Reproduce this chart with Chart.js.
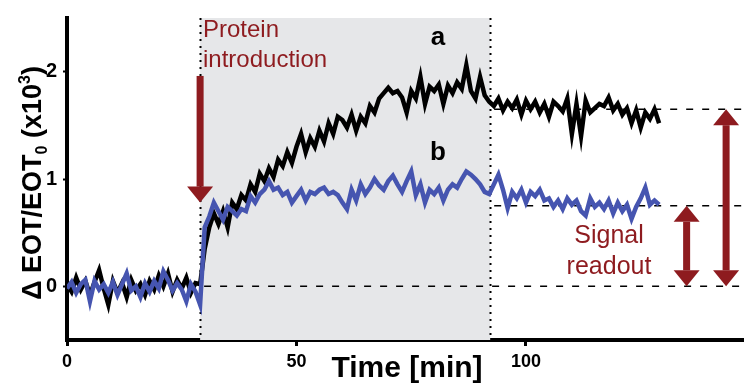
<!DOCTYPE html>
<html>
<head>
<meta charset="utf-8">
<script src="https://cdn.jsdelivr.net/npm/chart.js@4.4.0/dist/chart.umd.min.js"></script>
<style>
  html, body { margin: 0; padding: 0; background: #fff; }
  #wrap { width: 744px; height: 383px; }
</style>
</head>
<body>
<div id="wrap"><canvas id="chart"></canvas></div>
<script>
// ===== Data (1 min sampling) =====
const traceA = [
  0.02, -0.05, 0.08, -0.03, 0.05, -0.08, 0.04, 0.15, -0.02, -0.17,
  0.05, -0.06, 0.03, -0.10, 0.06, -0.04, 0.02, -0.08, 0.05, -0.03,
  0.10, 0.00, 0.12, -0.05, 0.06, -0.02, 0.08, -0.06, 0.03, 0.02,
  0.35, 0.55, 0.68, 0.58, 0.70, 0.55, 0.78, 0.72, 0.85, 0.80,
  0.95, 0.88, 1.05, 0.98, 1.10, 1.02, 1.18, 1.12, 1.25, 1.15,
  1.30, 1.42, 1.25, 1.38, 1.30, 1.45, 1.35, 1.52, 1.42, 1.58,
  1.55, 1.48, 1.60, 1.45, 1.58, 1.52, 1.68, 1.62, 1.75, 1.80,
  1.85, 1.80, 1.82, 1.76, 1.62, 1.82, 1.75, 1.95, 1.70, 1.86,
  1.82, 1.88, 1.70, 1.87, 1.80, 1.90, 1.84, 2.06, 1.82, 1.75,
  1.95, 1.78, 1.72, 1.68, 1.75, 1.64, 1.72, 1.66, 1.74, 1.60,
  1.73, 1.65, 1.72, 1.62, 1.70, 1.58, 1.72, 1.68, 1.63, 1.75,
  1.42, 1.70, 1.40, 1.73, 1.62, 1.66, 1.70, 1.68, 1.76, 1.64,
  1.70, 1.60, 1.66, 1.52, 1.64, 1.48, 1.62, 1.56, 1.65, 1.52
];
const traceB = [
  -0.02, 0.04, -0.06, 0.02, 0.06, -0.14, 0.05, -0.03, 0.02, -0.06,
  0.04, -0.08, 0.02, 0.12, -0.04, 0.00, -0.10, 0.03, -0.05, 0.05,
  -0.02, 0.14, 0.06, -0.04, 0.03, -0.03, -0.14, 0.02, -0.05, -0.17,
  0.55, 0.65, 0.78, 0.70, 0.62, 0.74, 0.70, 0.66, 0.72, 0.70,
  0.84, 0.78, 0.86, 0.90, 0.98, 0.90, 0.92, 0.85, 0.88, 0.78,
  0.84, 0.90, 0.80, 0.88, 0.86, 0.90, 0.92, 0.86, 0.88, 0.85,
  0.78, 0.72, 0.90, 0.80, 0.95, 0.86, 0.92, 1.00, 0.94, 0.90,
  0.98, 1.03, 0.95, 0.88, 0.98, 1.07, 0.85, 0.95, 0.78, 0.90,
  0.86, 0.92, 0.80, 0.90, 0.95, 0.92, 1.00, 1.07, 1.04, 1.00,
  0.95, 0.88, 0.86, 0.95, 1.04, 0.90, 0.73, 0.88, 0.82, 0.90,
  0.78, 0.88, 0.84, 0.90, 0.80, 0.82, 0.74, 0.80, 0.72, 0.82,
  0.76, 0.80, 0.70, 0.66, 0.82, 0.74, 0.78, 0.72, 0.80, 0.68,
  0.78, 0.70, 0.76, 0.63, 0.74, 0.82, 0.92, 0.76, 0.80, 0.76
];
const timeStart = 0;
const timeStep = 1;
const timeTicks = [0, 50, 100];
const valueTicks = [0, 1, 2];

// ===== Annotation anchors (data units) =====
const injectTime = 29;
const rinseTime = 92.2;
const readoutA = 1.65;
const readoutB = 0.75;
const arrowBX = 135;
const arrowAX = 143.6;

const DARK_RED = "#8e1b1f";
const BLUE = "#4655b0";
const SHADE = "#e6e7e9";

const pts = (arr) => arr.map((v, i) => ({ x: timeStart + i * timeStep, y: v }));

function arrow(ctx, x, yFrom, yTo, both) {
  const shaft = 7, headW = 26, headL = 16;
  const dir = yTo > yFrom ? 1 : -1;
  ctx.fillStyle = DARK_RED;
  const s0 = both ? yFrom + dir * headL : yFrom;
  const s1 = yTo - dir * headL;
  ctx.fillRect(x - shaft / 2, Math.min(s0, s1), shaft, Math.abs(s1 - s0));
  const head = (tip, d) => {
    ctx.beginPath();
    ctx.moveTo(x, tip);
    ctx.lineTo(x - headW / 2, tip - d * headL);
    ctx.lineTo(x + headW / 2, tip - d * headL);
    ctx.closePath();
    ctx.fill();
  };
  head(yTo, dir);
  if (both) head(yFrom, -dir);
}

const decorations = {
  id: "decorations",
  beforeDatasetsDraw(chart) {
    const { ctx, chartArea: a, scales: { x, y } } = chart;
    ctx.save();
    // shaded protein window
    ctx.fillStyle = SHADE;
    ctx.fillRect(x.getPixelForValue(injectTime), a.top, x.getPixelForValue(rinseTime) - x.getPixelForValue(injectTime), a.bottom - a.top);
    // dotted verticals
    ctx.strokeStyle = "#000";
    ctx.lineWidth = 2;
    ctx.setLineDash([2, 5]);
    [injectTime, rinseTime].forEach((t) => {
      const px = Math.round(x.getPixelForValue(t)) + 0.5;
      ctx.beginPath();
      ctx.moveTo(px, a.top);
      ctx.lineTo(px, a.bottom);
      ctx.stroke();
    });
    // dashed reference levels
    ctx.lineWidth = 1.5;
    ctx.setLineDash([7, 9]);
    [[injectTime, 0], [rinseTime, readoutB], [rinseTime, readoutA]].forEach(([t, v]) => {
      const py = y.getPixelForValue(v);
      ctx.beginPath();
      ctx.moveTo(x.getPixelForValue(t) + 4, py);
      ctx.lineTo(a.right, py);
      ctx.stroke();
    });
    ctx.restore();
  },
  afterDatasetsDraw(chart) {
    const { ctx, scales: { x, y } } = chart;
    ctx.save();
    // arrows
    arrow(ctx, x.getPixelForValue(injectTime), y.getPixelForValue(1.96), y.getPixelForValue(0.78), false);
    arrow(ctx, x.getPixelForValue(arrowBX), y.getPixelForValue(readoutB), y.getPixelForValue(0), true);
    arrow(ctx, x.getPixelForValue(arrowAX), y.getPixelForValue(readoutA), y.getPixelForValue(0), true);

    // red labels
    ctx.fillStyle = DARK_RED;
    ctx.font = "24px 'Liberation Sans', Arial, sans-serif";
    ctx.textBaseline = "alphabetic";
    ctx.textAlign = "left";
    ctx.fillText("Protein", 203, 37);
    ctx.fillText("introduction", 203, 67);
    ctx.textAlign = "center";
    ctx.font = "25px 'Liberation Sans', Arial, sans-serif";
    ctx.fillText("Signal", 609, 243);
    ctx.fillText("readout", 609, 274);

    // series letters
    ctx.fillStyle = "#000";
    ctx.font = "bold 26px 'Liberation Sans', Arial, sans-serif";
    ctx.fillText("a", 438, 45);
    ctx.fillText("b", 438, 160);

    // x axis title
    ctx.font = "bold 30px 'Liberation Sans', Arial, sans-serif";
    ctx.fillText("Time [min]", 407, 377);

    // y axis title, rotated
    ctx.translate(41, 183);
    ctx.rotate(-Math.PI / 2);
    const big = "bold 27px 'Liberation Sans', Arial, sans-serif";
    const small = "bold 16px 'Liberation Sans', Arial, sans-serif";
    const parts = [
      ["\u0394 EOT/EOT", big, 0],
      ["0", small, 6],
      [" (x10", big, 0],
      ["3", small, -11],
      [")", big, 0]
    ];
    let total = 0;
    parts.forEach(([t, f]) => { ctx.font = f; total += ctx.measureText(t).width; });
    let cx = -total / 2;
    ctx.textAlign = "left";
    parts.forEach(([t, f, dy]) => {
      ctx.font = f;
      ctx.fillText(t, cx, dy);
      cx += ctx.measureText(t).width;
    });
    ctx.restore();
  }
};

new Chart(document.getElementById("chart"), {
  type: "line",
  data: {
    datasets: [
      { label: "b", data: pts(traceB), borderColor: BLUE, borderWidth: 4.5, pointRadius: 0, tension: 0, order: 0 },
      { label: "a", data: pts(traceA), borderColor: "#000", borderWidth: 4.5, pointRadius: 0, tension: 0, order: 1 }
    ]
  },
  options: {
    responsive: true,
    maintainAspectRatio: false,
    animation: false,
    layout: { padding: { top: 13, right: 0, left: 0, bottom: 0 } },
    plugins: { legend: { display: false }, tooltip: { enabled: false } },
    scales: {
      x: {
        type: "linear",
        min: 0,
        max: 147.5,
        afterBuildTicks: (s) => { s.ticks = timeTicks.map((v) => ({ value: v })); },
        afterFit: (s) => { s.height = 43; },
        border: { color: "#000", width: 4 },
        grid: { drawOnChartArea: false, color: "#000", tickLength: 6, tickWidth: 3 },
        ticks: {
          color: "#000",
          padding: 5,
          maxRotation: 0,
          font: { family: "'Liberation Sans', Arial", weight: "bold", size: 18 }
        }
      },
      y: {
        min: -0.5,
        max: 2.5,
        afterBuildTicks: (s) => { s.ticks = valueTicks.map((v) => ({ value: v })); },
        afterFit: (s) => { s.width = 67; },
        border: { color: "#000", width: 4 },
        grid: { drawOnChartArea: false, color: "#000", tickLength: 4, tickWidth: 2 },
        ticks: {
          color: "#000",
          padding: 6,
          font: { family: "'Liberation Sans', Arial", weight: "bold", size: 20 }
        }
      }
    }
  },
  plugins: [decorations]
});
</script>
</body>
</html>
